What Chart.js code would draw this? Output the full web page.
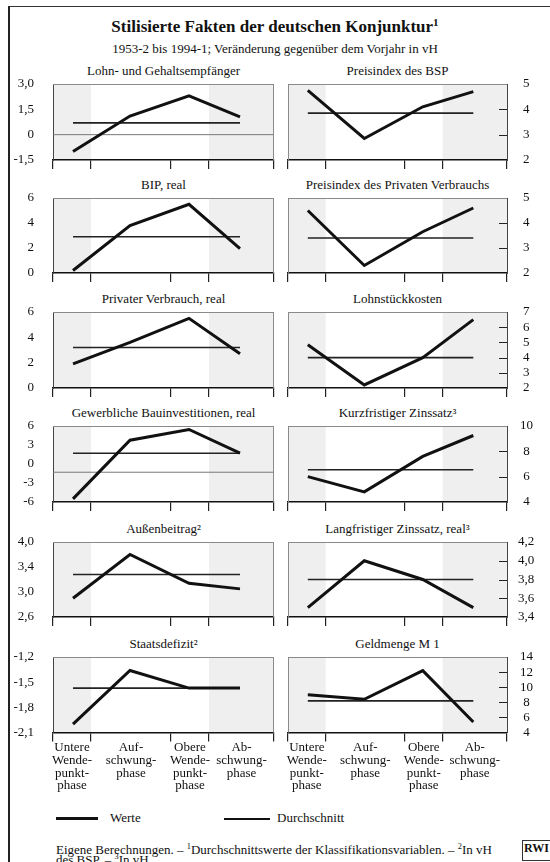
<!DOCTYPE html>
<html lang="de">
<head>
<meta charset="utf-8">
<title>Stilisierte Fakten der deutschen Konjunktur</title>
<script src="https://cdn.jsdelivr.net/npm/chart.js@4.4.1/dist/chart.umd.min.js"></script>
<style>
  body { margin: 0; background: #fff; font-family: "Liberation Serif", "Times New Roman", serif; color: #111; }
  #page { position: relative; width: 550px; height: 862px; overflow: hidden; }
  .frame { position: absolute; left: 8px; top: 6px; width: 600px; height: 900px; border-left: 2px solid #222; border-top: 1.5px solid #333; }
  canvas { position: absolute; }
  .ptitle { position: absolute; text-align: center; font-size: 13px; line-height: 16px; white-space: nowrap; }
  .main { position: absolute; left: 0; width: 550px; text-align: center; white-space: nowrap; }
  sup { font-size: 65%; line-height: 0; vertical-align: 0.55em; }
</style>
</head>
<body>
<div id="page">
  <div class="frame"></div>
  <div class="main" style="top:17px;font-size:17px;font-weight:bold;">Stilisierte Fakten der deutschen Konjunktur<sup>1</sup></div>
  <div class="main" style="top:41px;font-size:13px;">1953-2 bis 1994-1; Veränderung gegenüber dem Vorjahr in vH</div>

  <div style="position:absolute;left:56px;top:817px;width:42px;height:3px;background:#111;"></div>
  <div style="position:absolute;left:110px;top:810px;font-size:13px;">Werte</div>
  <div style="position:absolute;left:224px;top:818px;width:46px;height:1.5px;background:#111;"></div>
  <div style="position:absolute;left:277px;top:810px;font-size:13px;">Durchschnitt</div>

  <div style="position:absolute;left:56px;top:845px;font-size:13px;line-height:10px;white-space:nowrap;">
    Eigene Berechnungen. – <sup>1</sup>Durchschnittswerte der Klassifikationsvariablen. – <sup>2</sup>In vH<br>des BSP. – <sup>3</sup>In vH.
  </div>
  <div style="position:absolute;left:522px;top:840px;width:32px;height:19px;border:1.5px solid #333;font-size:12px;font-weight:bold;line-height:14px;padding-left:1px;">RWI</div>
</div>

<script>
// phase layout on a relative time axis (average phase lengths)
const phaseBounds = [0, 38, 118, 156, 221];
const phaseX = [20, 77, 136, 187];
const phaseLabels = [
  ['Untere', 'Wende-', 'punkt-', 'phase'],
  ['Auf-', 'schwung-', 'phase'],
  ['Obere', 'Wende-', 'punkt-', 'phase'],
  ['Ab-', 'schwung-', 'phase']
];
const shadedPhases = [0, 3];

// left column
const lohnTicks = [-1.5, 0, 1.5, 3];
const lohnLabels = ['-1,5', '0', '1,5', '3,0'];
const lohnWerte = [-1.0, 1.1, 2.3, 1.05];
const lohnSchnitt = 0.7;

const bipTicks = [0, 2, 4, 6];
const bipLabels = ['0', '2', '4', '6'];
const bipWerte = [0.2, 3.8, 5.5, 1.95];
const bipSchnitt = 2.9;

const pvTicks = [0, 2, 4, 6];
const pvLabels = ['0', '2', '4', '6'];
const pvWerte = [1.9, 3.6, 5.5, 2.7];
const pvSchnitt = 3.2;

const bauTicks = [-6, -3, 0, 3, 6];
const bauLabels = ['-6', '-3', '0', '3', '6'];
const bauWerte = [-5.5, 3.75, 5.45, 1.7];
const bauSchnitt = 1.7;

const abTicks = [2.6, 3.0, 3.4, 3.8];
const abLabels = ['2,6', '3,0', '3,4', '4,0'];
const abWerte = [2.9, 3.6, 3.14, 3.05];
const abSchnitt = 3.28;

const sdTicks = [-2.1, -1.8, -1.5, -1.2];
const sdLabels = ['-2,1', '-1,8', '-1,5', '-1,2'];
const sdWerte = [-2.0, -1.36, -1.57, -1.57];
const sdSchnitt = -1.57;

// right column
const bspTicks = [2, 3, 4, 5];
const bspLabels = ['2', '3', '4', '5'];
const bspWerte = [4.75, 2.85, 4.1, 4.7];
const bspSchnitt = 3.85;

const ppvTicks = [2, 3, 4, 5];
const ppvLabels = ['2', '3', '4', '5'];
const ppvWerte = [4.5, 2.3, 3.65, 4.6];
const ppvSchnitt = 3.4;

const lskTicks = [2, 3, 4, 5, 6, 7];
const lskLabels = ['2', '3', '4', '5', '6', '7'];
const lskWerte = [4.85, 2.2, 4.0, 6.5];
const lskSchnitt = 4.0;

const kzTicks = [4, 6, 8, 10];
const kzLabels = ['4', '6', '8', '10'];
const kzWerte = [6.0, 4.8, 7.6, 9.25];
const kzSchnitt = 6.55;

const lzTicks = [3.4, 3.6, 3.8, 4.0, 4.2];
const lzLabels = ['3,4', '3,6', '3,8', '4,0', '4,2'];
const lzWerte = [3.5, 4.0, 3.8, 3.5];
const lzSchnitt = 3.8;

const m1Ticks = [4, 6, 8, 10, 12, 14];
const m1Labels = ['4', '6', '8', '10', '12', '14'];
const m1Werte = [9.0, 8.4, 12.2, 5.4];
const m1Schnitt = 8.2;

const panels = [
  { col: 0, row: 0, title: 'Lohn- und Gehaltsempfänger', ticks: lohnTicks, labels: lohnLabels, werte: lohnWerte, schnitt: lohnSchnitt, ref: 0 },
  { col: 1, row: 0, title: 'Preisindex des BSP', ticks: bspTicks, labels: bspLabels, werte: bspWerte, schnitt: bspSchnitt },
  { col: 0, row: 1, title: 'BIP, real', ticks: bipTicks, labels: bipLabels, werte: bipWerte, schnitt: bipSchnitt },
  { col: 1, row: 1, title: 'Preisindex des Privaten Verbrauchs', ticks: ppvTicks, labels: ppvLabels, werte: ppvWerte, schnitt: ppvSchnitt },
  { col: 0, row: 2, title: 'Privater Verbrauch, real', ticks: pvTicks, labels: pvLabels, werte: pvWerte, schnitt: pvSchnitt },
  { col: 1, row: 2, title: 'Lohnstückkosten', ticks: lskTicks, labels: lskLabels, werte: lskWerte, schnitt: lskSchnitt },
  { col: 0, row: 3, title: 'Gewerbliche Bauinvestitionen, real', ticks: bauTicks, labels: bauLabels, werte: bauWerte, schnitt: bauSchnitt, ref: -1.3 },
  { col: 1, row: 3, title: 'Kurzfristiger Zinssatz³', ticks: kzTicks, labels: kzLabels, werte: kzWerte, schnitt: kzSchnitt },
  { col: 0, row: 4, title: 'Außenbeitrag²', ticks: abTicks, labels: abLabels, werte: abWerte, schnitt: abSchnitt },
  { col: 1, row: 4, title: 'Langfristiger Zinssatz, real³', ticks: lzTicks, labels: lzLabels, werte: lzWerte, schnitt: lzSchnitt },
  { col: 0, row: 5, title: 'Staatsdefizit²', ticks: sdTicks, labels: sdLabels, werte: sdWerte, schnitt: sdSchnitt },
  { col: 1, row: 5, title: 'Geldmenge M 1', ticks: m1Ticks, labels: m1Labels, werte: m1Werte, schnitt: m1Schnitt }
];

// page geometry of the plot boxes
const rowTop = [84, 198, 312, 426, 542, 657];
const rowBottom = [160, 273, 388, 502, 617, 732];
const colLeft = [53, 288];
const colRight = [274, 507];

Chart.defaults.font.family = '"Liberation Serif", "Times New Roman", serif';
Chart.defaults.font.size = 13;
Chart.defaults.color = '#111';

const measure = document.createElement('canvas').getContext('2d');
measure.font = '13px "Liberation Serif"';
// gap between right axis and label centre (~19px)
function rightGap(labels) {
  const w = Math.max(...labels.map(l => measure.measureText(l).width));
  return Math.max(2, Math.round(19 - w / 2));
}

const boxPlugin = {
  id: 'box',
  beforeDraw(chart) {
    const { ctx, chartArea: a, scales: { x } } = chart;
    ctx.save();
    ctx.fillStyle = '#efefef';
    shadedPhases.forEach(i => {
      const x0 = x.getPixelForValue(phaseBounds[i]);
      const x1 = x.getPixelForValue(phaseBounds[i + 1]);
      ctx.fillRect(x0, a.top, x1 - x0, a.bottom - a.top);
    });
    ctx.restore();
  },
  afterDraw(chart, args, opts) {
    const { ctx, chartArea: a, scales: { y } } = chart;
    ctx.save();
    ctx.strokeStyle = '#8a8a8a';
    ctx.lineWidth = 1;
    ctx.beginPath();
    ctx.moveTo(a.left, a.top + 0.5);
    ctx.lineTo(a.right, a.top + 0.5);
    const sx = opts.right ? a.left + 0.5 : a.right - 0.5;
    ctx.moveTo(sx, a.top);
    ctx.lineTo(sx, a.bottom);
    ctx.stroke();
    if (opts.right) {
      ctx.strokeStyle = '#222';
      ctx.beginPath();
      y.ticks.forEach(t => {
        const py = Math.round(y.getPixelForValue(t.value)) + 0.5;
        if (py < a.top + 2 || py > a.bottom - 2) return;
        ctx.moveTo(a.right - 8, py);
        ctx.lineTo(a.right, py);
      });
      ctx.stroke();
    }
    ctx.restore();
  }
};

const page = document.getElementById('page');
const labelLine = 12.6;

panels.forEach(p => {
  const isRight = p.col === 1;
  const isBottom = p.row === 5;
  const top = rowTop[p.row];
  const h = rowBottom[p.row] - top;
  const padTop = 10;
  const cx = isRight ? 280 : 0;
  const cw = isRight ? 270 : 276;
  const ch = padTop + h + 9 + (isBottom ? Math.ceil(4 * labelLine) + 1 : 1);

  const t = document.createElement('div');
  t.className = 'ptitle';
  t.textContent = p.title;
  t.style.left = colLeft[p.col] + 'px';
  t.style.width = (colRight[p.col] - colLeft[p.col]) + 'px';
  t.style.top = (top - 21) + 'px';
  page.appendChild(t);

  const cv = document.createElement('canvas');
  cv.width = cw;
  cv.height = ch;
  cv.style.left = cx + 'px';
  cv.style.top = (top - padTop) + 'px';
  page.appendChild(cv);

  const datasets = [
    { label: 'Werte', data: phaseX.map((x, i) => ({ x: x, y: p.werte[i] })),
      borderColor: '#111', borderWidth: 3, pointRadius: 0, clip: false, borderJoinStyle: 'miter', borderCapStyle: 'butt' },
    { label: 'Durchschnitt', data: phaseX.map(x => ({ x: x, y: p.schnitt })),
      borderColor: '#222', borderWidth: 1.6, pointRadius: 0, clip: false }
  ];
  if (p.ref !== undefined) {
    datasets.push({ label: 'Null', data: [{ x: phaseBounds[0], y: p.ref }, { x: phaseBounds[4], y: p.ref }],
      borderColor: '#777', borderWidth: 1, pointRadius: 0 });
  }

  const scales = {
    x: {
      type: 'linear', position: 'bottom', min: phaseBounds[0], max: phaseBounds[4],
      afterBuildTicks: s => { s.ticks = phaseBounds.map(v => ({ value: v })); },
      ticks: { display: false },
      grid: { drawOnChartArea: false, drawTicks: true, tickLength: 9, color: '#222', lineWidth: 1.2 },
      border: { color: '#111', width: 1.5 }
    },
    y: {
      type: 'linear', position: isRight ? 'right' : 'left',
      min: p.ticks[0], max: p.ticks[p.ticks.length - 1],
      afterBuildTicks: s => { s.ticks = p.ticks.map(v => ({ value: v })); },
      afterFit: s => { s.width = isRight ? 43 : 53; },
      ticks: {
        callback: (v, i) => p.labels[i],
        padding: 0, autoSkip: false,
        crossAlign: isRight ? 'center' : 'near',
        font: { size: 13 }, color: '#111'
      },
      // invisible tick marks keep the labels away from the axis
      grid: { drawOnChartArea: false, drawTicks: true, tickLength: isRight ? rightGap(p.labels) : 19, tickColor: 'rgba(0,0,0,0)' },
      border: { color: '#444', width: 1 }
    }
  };
  if (isBottom) {
    scales.x2 = {
      type: 'linear', position: 'bottom', min: phaseBounds[0], max: phaseBounds[4],
      afterBuildTicks: s => { s.ticks = phaseBounds.slice(0, 4).map((b, i) => ({ value: (b + phaseBounds[i + 1]) / 2 })); },
      ticks: { callback: (v, i) => phaseLabels[i], padding: 0, maxRotation: 0, autoSkip: false,
        font: { size: 13, lineHeight: labelLine / 13 }, color: '#111' },
      grid: { display: false, drawTicks: false },
      border: { display: false }
    };
  }

  new Chart(cv, {
    type: 'line',
    data: { datasets: datasets },
    options: {
      responsive: false,
      animation: false,
      events: [],
      layout: { padding: { top: padTop, bottom: 1, left: isRight ? 8 : 0, right: isRight ? 0 : 2 } },
      scales: scales,
      plugins: { legend: { display: false }, tooltip: { enabled: false }, box: { right: isRight } }
    },
    plugins: [boxPlugin]
  });
});
</script>
</body>
</html>
